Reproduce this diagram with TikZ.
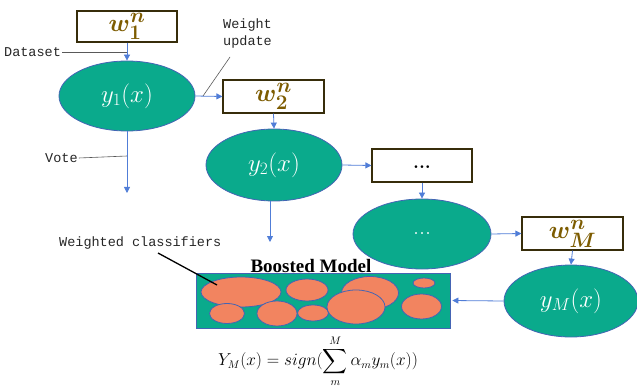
\documentclass[tikz,border=0pt]{standalone}
\usepackage{fontspec}
\usepackage{amsmath}
\setmonofont{Liberation Mono}
\newfontfamily\timesf{Liberation Serif}
\usetikzlibrary{shapes.geometric,arrows.meta}
\definecolor{tealf}{RGB}{10,170,140}
\definecolor{eblue}{RGB}{68,100,180}
\definecolor{arrowblue}{RGB}{80,125,215}
\definecolor{goldt}{RGB}{125,92,0}
\definecolor{boxedge}{RGB}{55,45,10}
\definecolor{orangef}{RGB}{242,132,96}
\tikzset{
  wbox/.style={draw=boxedge, line width=1.2pt, fill=white, minimum width=100pt, minimum height=31pt, inner sep=0pt, font={\fontsize{28}{28}\selectfont}, text=goldt},
  clf/.style={ellipse, draw=eblue, fill=tealf, line width=0.8pt, inner sep=0pt, text=white, font={\fontsize{27}{27}\selectfont}},
  arr/.style={-{Triangle[length=6pt,width=6pt]}, draw=arrowblue, line width=0.8pt},
  lbl/.style={font={\ttfamily\fontsize{13.5}{17}\selectfont}, text=black!85, inner sep=1pt},
  pointer/.style={draw=black!65, line width=0.6pt},
  blob/.style={ellipse, draw=eblue, fill=orangef, line width=0.8pt, inner sep=0pt}
}
\begin{document}
\begin{tikzpicture}[x=1pt,y=-1pt]
\useasboundingbox (0,0) rectangle (637,390);

% weight boxes
\node[wbox] (w1) at (127,26.5) {$\boldsymbol{w_1^n}$};
\node[wbox, minimum width=101pt, minimum height=33pt] (w2) at (273.5,96.5) {$\boldsymbol{w_2^n}$};
\node[wbox, minimum width=100pt, minimum height=33pt, text=black] (w3) at (422,165.5) {\raisebox{-6pt}{\fontsize{19}{19}\selectfont\bfseries ...}};
\node[wbox, minimum width=101pt, minimum height=33pt] (wM) at (572.5,233.5) {$\boldsymbol{w_M^n}$};

% classifiers
\node[clf, minimum width=136pt, minimum height=70pt] (y1) at (127,96) {$y_1(x)$};
\node[clf, minimum width=136pt, minimum height=72pt] (y2) at (274,165) {$y_2(x)$};
\node[clf, minimum width=138pt, minimum height=70pt] (y3) at (422,234) {\fontsize{24}{24}\selectfont ...};
\node[clf, minimum width=134pt, minimum height=72pt] (yM) at (571,301) {$y_M(x)$};

% arrows
\draw[arr] (w1.south) -- (y1.north);
\draw[arr] (y1.east) -- (w2.west);
\draw[arr] (w2.south) -- (y2.north);
\draw[arr] (y2.east) -- (w3.west);
\draw[arr] (w3.south) -- (y3.north);
\draw[arr] (y3.east) -- (wM.west);
\draw[arr] (wM.south) -- (yM.north);

% vote arrows
\coordinate (v1end) at (127,193);
\coordinate (v2end) at (270,242);
\draw[arr] (y1.south) -- (v1end);
\draw[arr] ([xshift=-4pt]y2.south) -- (v2end);

% labels
\node[lbl, anchor=west] (ds) at (3,52) {Dataset};
\coordinate (dsp) at (127,52);
\draw[pointer] (ds.east) -- (dsp);

\node[lbl, anchor=west] (vote) at (44,158) {Vote};
\coordinate (vp) at (127,156);
\draw[pointer] (vote.east) -- (vp);

\node[lbl, align=left, anchor=north west] (wu) at (222,18) {Weight\\update};
\coordinate (wus) at (230,57);
\coordinate (wup) at (203,96);
\draw[pointer] (wus) -- (wup);

% boosted model
\node[font={\timesf\bfseries\fontsize{19}{19}\selectfont}, inner sep=0pt] (bt) at (311,266) {Boosted Model};
\node[draw=eblue, fill=tealf, line width=0.8pt, minimum width=254pt, minimum height=55pt, inner sep=0pt] (bm) at (323,300.5) {};
\node[blob, minimum width=80pt, minimum height=30pt] (b1) at (241,292) {};
\node[blob, minimum width=42pt, minimum height=22pt] (b2) at (307,290) {};
\node[blob, minimum width=57pt, minimum height=33pt] (b3) at (370,293) {};
\node[blob, minimum width=22pt, minimum height=10pt] (b4) at (424,283) {};
\node[blob, minimum width=35pt, minimum height=20pt] (b5) at (227,313.5) {};
\node[blob, minimum width=40pt, minimum height=25pt] (b6) at (277,313.5) {};
\node[blob, minimum width=31pt, minimum height=16pt] (b7) at (313,313) {};
\node[blob, minimum width=58pt, minimum height=34pt] (b8) at (356,307) {};
\node[blob, minimum width=40pt, minimum height=25pt] (b9) at (421.5,306.5) {};
\draw[arr, shorten >=2pt] (yM.west) -- (bm.east);

\node[lbl, anchor=west] (wc) at (58,243) {Weighted classifiers};
\coordinate (wcs) at (158,253);
\coordinate (wce) at (217,285);
\draw[black, line width=1.3pt] (wcs) -- (wce);

% formula
\node[font={\fontsize{16}{16}\selectfont}, inner sep=0pt] (fm) at (318,361) {$Y_M(x) = sign(\displaystyle\sum_{m}^{M} \alpha_m y_m(x))$};
\end{tikzpicture}
\end{document}
